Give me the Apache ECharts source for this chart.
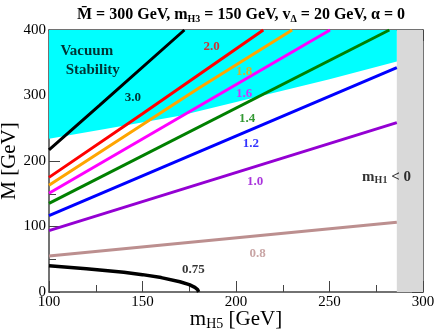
<!doctype html>
<html>
<head>
<meta charset="UTF-8">
<title></title>
<script src="https://cdn.jsdelivr.net/npm/echarts@6/dist/echarts.min.js"></script>
<style>
	html, body { margin: 0; padding: 0; background: #fff; }
	#main { width: 436px; height: 335px; }
</style>
</head>
<body>
<div id="main"></div>
<script type="text/javascript">
	// contour lines, [m_H5, M]
	var line30 = [[100, 217], [127, 285], [172.4, 400]];
	var line20 = [[100, 175], [150, 272], [214.6, 400]];
	var line18 = [[100, 163], [180, 311], [230, 400]];
	var line16 = [[100, 150.7], [250.3, 400]];
	var line14 = [[100, 135.4], [282, 400]];
	var line12 = [[100, 116.5], [286, 342.5]];
	var line10 = [[100, 93.6], [286, 258.5]];
	var line08 = [[100, 55], [286, 106.4]];
	var line075 = [[100, 40], [120, 35.6], [140, 30], [150, 26.5], [160, 22], [170, 15.7], [175, 11.2], [178, 7], [179.5, 3.6], [180, 0]];
	// lower edge of the vacuum stability region
	var vacuumEdge = [[100, 234], [130, 249], [170, 269], [210, 297], [250, 325], [286, 352]];
	// m_H1 < 0 band
	var negBand = [286, 300];

	var contourNames = ['3.0', '2.0', '1.8', '1.6', '1.4', '1.2', '1.0', '0.8', '0.75'];
	var contourColors = ['#000000', '#ff0000', '#ffa500', '#ff00ff', '#008000', '#0000ff', '#9400d3', '#bc8f8f', '#000000'];
	var labelAt = [[144.8, 296.6], [187, 374.5], [204.4, 336.3], [204.4, 303.4], [206, 264.1], [207.9, 227], [210.2, 168.4], [211.6, 59.1], [177.2, 33.6]];

	var serif = "'Liberation Serif', 'DejaVu Serif', serif";
	var frame = '#444';

	function axisCommon(show) {
		return {
			axisLine: { show: true, onZero: false, lineStyle: { color: frame, width: 1.5 } },
			axisTick: { show: true, inside: true, length: 11, lineStyle: { color: frame, width: 1 } },
			minorTick: { show: true, splitNumber: 2, length: 7, lineStyle: { color: frame, width: 1 } },
			splitLine: { show: false },
			axisLabel: { show: show, color: '#000', fontFamily: serif, fontSize: 15, margin: 3, hideOverlap: false }
		};
	}

	var lines = [line30, line20, line18, line16, line14, line12, line10, line08, line075];
	var series = [];

	series.push({
		type: 'line',
		data: vacuumEdge,
		symbol: 'none',
		lineStyle: { width: 0 },
		areaStyle: { color: '#00ffff', opacity: 1, origin: 'end' },
		silent: true,
		z: 1,
		markArea: {
			silent: true,
			itemStyle: { color: '#d9d9d9' },
			data: [[{ xAxis: negBand[0] }, { xAxis: negBand[1] }]]
		}
	});

	for (var i = 0; i < lines.length; i++) {
		series.push({
			type: 'line',
			name: contourNames[i],
			data: lines[i],
			symbol: 'none',
			showSymbol: false,
			lineStyle: { color: contourColors[i], width: i == 8 ? 3.5 : 3 },
			z: 3
		});
	}

	var labelData = [];
	for (var j = 0; j < contourNames.length; j++) {
		labelData.push({
			value: labelAt[j],
			label: { formatter: contourNames[j], color: contourColors[j] }
		});
	}
	series.push({
		type: 'scatter',
		symbolSize: 0,
		data: labelData,
		label: { show: true, position: 'inside', fontFamily: serif, fontWeight: 'bold', fontSize: 13 },
		labelLayout: { hideOverlap: false },
		z: 5
	});

	// region captions
	series.push({
		type: 'scatter',
		symbolSize: 0,
		data: [
			{ value: [120.2, 368.4], label: { formatter: 'Vacuum' } },
			{ value: [123.4, 339], label: { formatter: 'Stability' } },
			{ value: [280.5, 175], label: { formatter: '{b|m}{s|H1}{b| < 0}' } }
		],
		label: {
			show: true, position: 'inside', color: '#000', fontFamily: serif, fontWeight: 'bold', fontSize: 15,
			rich: {
				b: { fontFamily: serif, fontWeight: 'bold', fontSize: 15, lineHeight: 16, verticalAlign: 'top' },
				s: { fontFamily: serif, fontWeight: 'bold', fontSize: 10, lineHeight: 12, padding: [9, 0, 0, 0], verticalAlign: 'bottom' }
			}
		},
		z: 5
	});

	var option = {
		animation: false,
		backgroundColor: '#fff',
		title: {
			text: '{b|M\u0304 = 300 GeV, m}{s|H3}{b| = 150 GeV, v}{s|\u0394}{b| = 20 GeV, \u03b1 = 0}',
			left: 236,
			textAlign: 'center',
			top: 2,
			textStyle: {
				rich: {
					b: { fontFamily: serif, fontWeight: 'bold', fontSize: 16, color: '#000', lineHeight: 17, verticalAlign: 'top' },
					s: { fontFamily: serif, fontWeight: 'bold', fontSize: 10, color: '#000', lineHeight: 12, padding: [10, 0, 0, 0], verticalAlign: 'bottom' }
				}
			}
		},
		grid: { left: 49, right: 13, top: 30, bottom: 43, containLabel: false, outerBoundsMode: 'none' },
		xAxis: [
			Object.assign({
				type: 'value', min: 100, max: 300, interval: 50, position: 'bottom',
				name: '{m|m}{s|H5}{m| [GeV]}',
				nameLocation: 'middle',
				nameGap: 17,
				nameMoveOverlap: false,
				nameTextStyle: {
					rich: {
						m: { fontFamily: serif, fontSize: 21, color: '#000', lineHeight: 22, verticalAlign: 'top' },
						s: { fontFamily: serif, fontSize: 14, color: '#000', lineHeight: 14, padding: [12, 0, 0, 0], verticalAlign: 'bottom' }
					}
				}
			}, axisCommon(true)),
			Object.assign({ type: 'value', min: 100, max: 300, interval: 50, position: 'top' }, axisCommon(false))
		],
		yAxis: [
			Object.assign({
				type: 'value', min: 0, max: 400, interval: 100, position: 'left',
				name: 'M [GeV]',
				nameLocation: 'middle',
				nameGap: 29.5,
				nameMoveOverlap: false,
				nameTextStyle: { fontFamily: serif, fontSize: 21, color: '#000' }
			}, axisCommon(true)),
			Object.assign({ type: 'value', min: 0, max: 400, interval: 100, position: 'right' }, axisCommon(false))
		],
		series: series
	};

	var chart = echarts.init(document.getElementById('main'), null, { renderer: 'canvas' });
	chart.setOption(option);
</script>
</body>
</html>
